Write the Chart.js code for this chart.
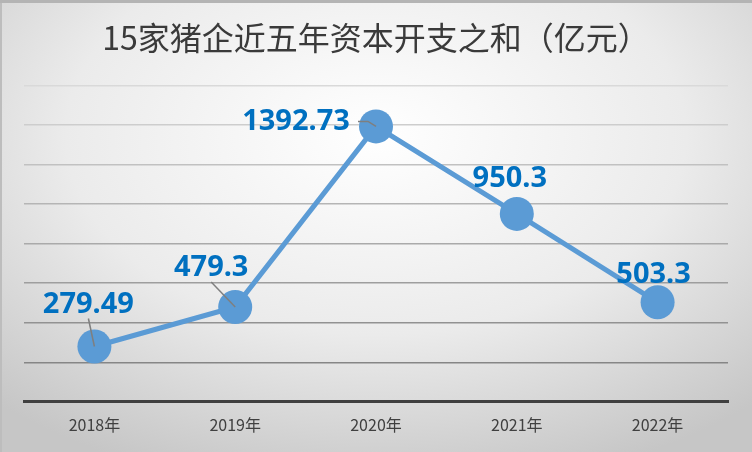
<!DOCTYPE html>
<html>
<head>
<meta charset="utf-8">
<script src="https://cdn.jsdelivr.net/npm/chart.js@4/dist/chart.umd.min.js"></script>
<style>
  html, body { margin: 0; padding: 0; }
  #wrap {
    width: 752px; height: 452px; position: relative;
    background: radial-gradient(ellipse 75% 80% at 50% 30%, #ffffff 0%, #ebebeb 55%, #c6c6c6 100%);
    box-shadow: inset 0 3px 0 #b4b4b4, inset 2px 0 0 #bdbdbd;
  }
</style>
</head>
<body>
<div id="wrap"><canvas id="capexChart" width="752" height="452"></canvas></div>
<script>
const years = ['2018年', '2019年', '2020年', '2021年', '2022年'];
const capexTotals = [279.49, 479.3, 1392.73, 950.3, 503.3];
const yTicks = [0, 200, 400, 600, 800, 1000, 1200, 1400, 1600];

// where each value label sits relative to its point (px)
const labelDx = [-6, -24, -80, -7, -4];
const labelDy = [-42, -39, -5, -35, -28];
const hasLeader = [true, true, true, false, false];

const BLUE = '#5b9bd5';

// gridlines get darker toward the bottom
function gridColor(ctx) {
    const v = ctx.tick ? ctx.tick.value : 0;
    if (v === 0) return 'rgba(0,0,0,0)';
    const t = v / 1600;
    const c = Math.round(122 + t * 95);
    return `rgb(${c},${c},${c})`;
}

const valueLabels = {
    id: 'valueLabels',
    afterDatasetsDraw(chart) {
        const { ctx } = chart;
        const pts = chart.getDatasetMeta(0).data;
        ctx.save();
        ctx.font = 'bold 29px "Noto Sans", "Open Sans", sans-serif';
        ctx.textAlign = 'center';
        ctx.textBaseline = 'middle';
        pts.forEach((p, i) => {
            const lx = p.x + labelDx[i];
            const ly = p.y + labelDy[i];
            if (hasLeader[i]) {
                ctx.strokeStyle = '#7f7f7f';
                ctx.lineWidth = 1.5;
                ctx.beginPath();
                if (i === 2) {
                    ctx.moveTo(lx + 62, ly);
                    ctx.lineTo(p.x - 8, ly);
                } else {
                    ctx.moveTo(lx, ly + 14);
                }
                ctx.lineTo(p.x, p.y);
                ctx.stroke();
            }
            ctx.fillStyle = '#0070c0';
            ctx.fillText(String(capexTotals[i]), lx, ly);
        });
        ctx.restore();
    }
};

new Chart(document.getElementById('capexChart'), {
    type: 'line',
    data: {
        labels: years,
        datasets: [{
            data: capexTotals,
            borderColor: BLUE,
            backgroundColor: BLUE,
            borderWidth: 5,
            pointRadius: 17,
            pointHoverRadius: 17,
            pointBackgroundColor: BLUE,
            pointBorderColor: BLUE,
            pointBorderWidth: 0,
            tension: 0,
            fill: false,
        }]
    },
    options: {
        responsive: false,
        animation: false,
        layout: { padding: { left: 24, right: 24, top: 0, bottom: 3 } },
        plugins: {
            legend: { display: false },
            tooltip: { enabled: false },
            title: {
                display: true,
                text: '15家猪企近五年资本开支之和（亿元）',
                color: '#3a3a3a',
                font: { family: '"Noto Sans CJK SC", sans-serif', size: 32, weight: 'normal', lineHeight: 1.2 },
                padding: { top: 19, bottom: 28 }
            }
        },
        scales: {
            x: {
                offset: true,
                grid: { display: false, drawTicks: false },
                border: { display: true, color: '#404040', width: 3 },
                ticks: {
                    color: '#404040',
                    padding: 14,
                    font: { family: '"Noto Sans CJK SC", sans-serif', size: 16 }
                }
            },
            y: {
                min: 0,
                max: 1600,
                afterBuildTicks: axis => { axis.ticks = yTicks.map(v => ({ value: v })); },
                ticks: { display: false },
                border: { display: false },
                grid: { color: gridColor, lineWidth: 1.5, drawTicks: false }
            }
        }
    },
    plugins: [valueLabels]
});
</script>
</body>
</html>
